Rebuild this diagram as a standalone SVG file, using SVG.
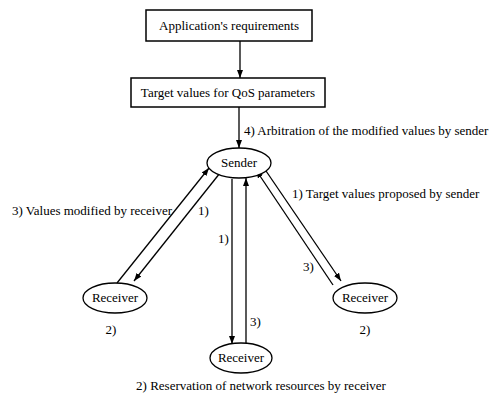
<svg xmlns="http://www.w3.org/2000/svg" width="492" height="403" viewBox="0 0 492 403">
<defs>
<marker id="ah" markerWidth="8" markerHeight="6" refX="8" refY="3" orient="auto" markerUnits="userSpaceOnUse">
<path d="M0,0 L8,3 L0,6 Z" fill="#000"/>
</marker>
<style>
.box{fill:#fff;stroke:#000;stroke-width:1.5}
.ell{fill:#fff;stroke:#000;stroke-width:1.3}
.t{font-family:"Liberation Serif","Times New Roman",serif;font-size:13px;fill:#000}
.c{text-anchor:middle}
.arr{stroke:#000;stroke-width:1.3;fill:none;marker-end:url(#ah)}
</style>
</defs>
<rect width="492" height="403" fill="#fff"/>
<g id="connectors">
<line class="arr" x1="240" y1="41" x2="240" y2="78"/>
<line class="arr" x1="239" y1="107" x2="239" y2="148"/>
<line class="arr" x1="117" y1="283" x2="209" y2="168"/>
<line class="arr" x1="220" y1="173" x2="134" y2="281"/>
<line class="arr" x1="232" y1="179" x2="232" y2="344"/>
<line class="arr" x1="246" y1="343" x2="246" y2="178"/>
<line class="arr" x1="333" y1="285" x2="256" y2="170"/>
<line class="arr" x1="264" y1="168" x2="341" y2="281"/>
</g>
<g id="app-req">
<rect class="box" x="146" y="10" width="166" height="31"/>
<text class="t c" x="229" y="30">Application's requirements</text>
</g>
<g id="target-values">
<rect class="box" x="131" y="78" width="194" height="29"/>
<text class="t c" x="228" y="97">Target values for QoS parameters</text>
</g>
<g id="sender">
<ellipse class="ell" cx="239" cy="163" rx="32" ry="15"/>
<text class="t c" x="239" y="167">Sender</text>
</g>
<g id="receiver-left">
<ellipse class="ell" cx="115" cy="298" rx="32" ry="15"/>
<text class="t c" x="115" y="302">Receiver</text>
</g>
<g id="receiver-bottom">
<ellipse class="ell" cx="241" cy="358" rx="31" ry="15"/>
<text class="t c" x="241" y="362">Receiver</text>
</g>
<g id="receiver-right">
<ellipse class="ell" cx="365" cy="298" rx="32" ry="15"/>
<text class="t c" x="365" y="302">Receiver</text>
</g>
<g id="labels">
<text class="t" x="244" y="135">4) Arbitration of the modified values by sender</text>
<text class="t" x="292" y="198">1) Target values proposed by sender</text>
<text class="t" x="12" y="215">3) Values modified by receiver</text>
<text class="t" x="198" y="215">1)</text>
<text class="t" x="218" y="243">1)</text>
<text class="t" x="303" y="271">3)</text>
<text class="t" x="250" y="326">3)</text>
<text class="t c" x="111" y="334">2)</text>
<text class="t c" x="365" y="334">2)</text>
<text class="t c" x="261" y="390">2) Reservation of network resources by receiver</text>
</g>
</svg>
